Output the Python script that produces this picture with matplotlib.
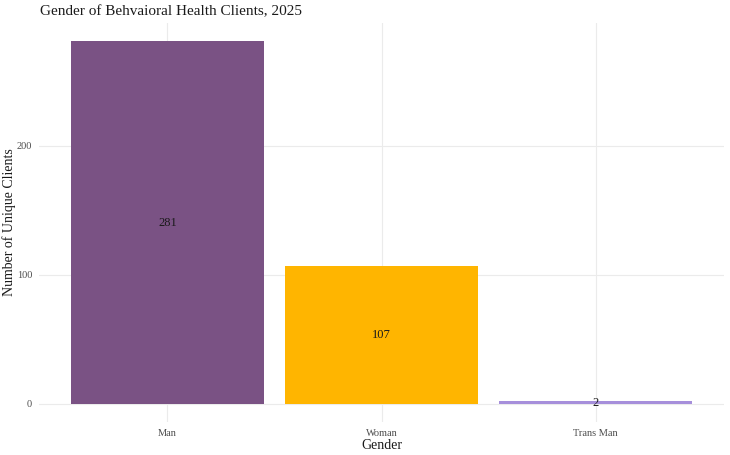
import matplotlib.pyplot as plt

# data
genders = ["Man", "Woman", "Trans Man"]
clients = [281, 107, 2]
colors = ["#7A5284", "#FFB500", "#A68FDB"]

plt.rcParams["font.family"] = ["Liberation Serif", "DejaVu Serif"]

fig = plt.figure(figsize=(7.3, 4.55), dpi=100)
ax = fig.add_axes([39 / 730, 1 - 422 / 455, (724 - 39) / 730, (422 - 23) / 455])

x = list(range(len(genders)))
ax.bar(x, clients, width=0.9, color=colors, zorder=2)

for xi, v in zip(x, clients):
    ax.text(xi, v / 2, str(v), ha="center", va="center", fontsize=9, color="#1a1a1a", zorder=3)

ax.set_xlim(-0.6, len(genders) - 0.4)
top = max(clients)
ax.set_ylim(-0.05 * top, top * 1.05)
ax.set_yticks([0, 100, 200])
ax.set_xticks(x)
ax.set_xticklabels(genders)

ax.grid(True, color="#EBEBEB", linewidth=0.8, zorder=0)
ax.set_axisbelow(True)
for s in ax.spines.values():
    s.set_visible(False)
ax.tick_params(length=0, labelsize=7.5, labelcolor="#4D4D4D", pad=5)

ax.set_xlabel("Gender", fontsize=10, color="#1a1a1a", labelpad=1)
ax.set_ylabel("Number of Unique Clients", fontsize=10, color="#1a1a1a", va="center")
ax.yaxis.set_label_coords(-29.5 / 685, 0.5)
fig.text(40 / 730, 1 - 12 / 455, "Gender of Behvaioral Health Clients, 2025",
         fontsize=11, color="#1a1a1a", ha="left", va="center")

plt.savefig("out.png", dpi=100)
